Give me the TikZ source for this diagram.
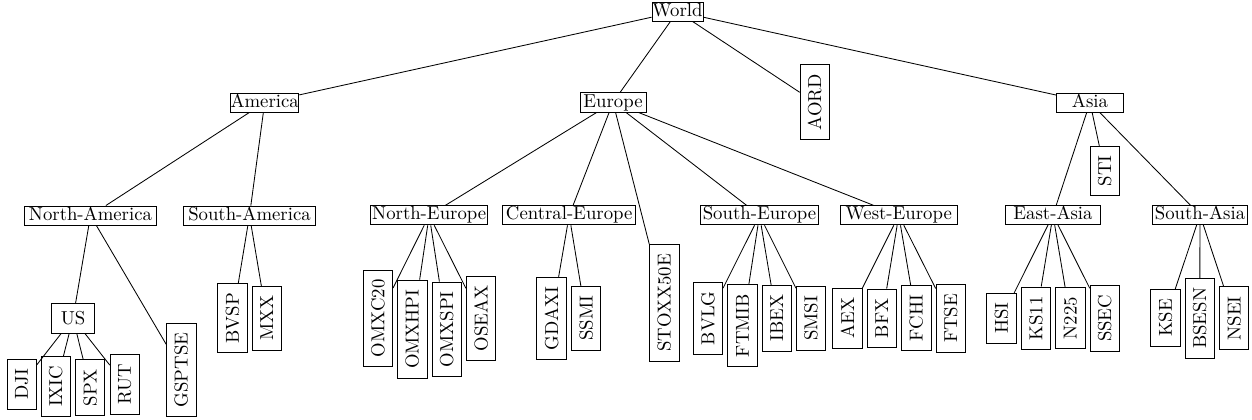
\documentclass[tikz,border=0pt]{standalone}
\begin{document}
\begin{tikzpicture}[x=0.5333pt,y=-0.5333pt,
  every path/.style={line width=0.45pt},
  inner/.style={draw, inner sep=0pt, text height=6.94pt, text depth=1.94pt, minimum height=10.2pt},
  leafbox/.style={draw, inner xsep=5pt, inner ysep=0pt, minimum height=15.6pt},
  leaf/.style={leafbox, rotate=90}]
\useasboundingbox (0,0) rectangle (1252,419);
% level 0/1
\node[inner, minimum width=27.2pt] (world) at (677.5,11.5) {World};
\node[inner, minimum width=35.2pt] (america) at (264.7,102.5) {America};
\node[inner, minimum width=35.2pt] (europe) at (613,102.4) {Europe};
\node[leaf] (aord) at (814.7,102.2) {AORD};
\node[inner, minimum width=35.6pt] (asia) at (1090,102.5) {Asia};
\node[leaf] (sti) at (1104.7,171) {STI};
% level 2
\node[inner, minimum width=70.6pt] (nam) at (90.5,215.5) {North-America};
\node[inner, minimum width=70.6pt] (sam) at (249.5,215.5) {South-America};
\node[inner, minimum width=62.4pt] (neu) at (429.2,215.3) {North-Europe};
\node[inner, minimum width=70.9pt] (ceu) at (569.2,215.3) {Central-Europe};
\node[leaf] (stoxx) at (664.3,303) {STOXX50E};
\node[inner, minimum width=62.8pt] (seu) at (759.5,215.3) {South-Europe};
\node[inner, minimum width=62.8pt] (weu) at (898.8,215.3) {West-Europe};
\node[inner, minimum width=50.8pt] (eas) at (1053,215) {East-Asia};
\node[inner, minimum width=50.8pt] (sas) at (1200,215) {South-Asia};
% America leaves
\node[leafbox] (us) at (73,318.3) {US};
\node[leaf] (dji) at (21.7,384.2) {DJI};
\node[leaf] (ixic) at (55.8,386.3) {IXIC};
\node[leaf] (spx) at (90.2,387.7) {SPX};
\node[leaf] (rut) at (124.8,384.2) {RUT};
\node[leaf] (gsptse) at (181.3,370) {GSPTSE};
\node[leaf] (bvsp) at (232.5,318.2) {BVSP};
\node[leaf] (mxx) at (266.8,318.3) {MXX};
% Europe leaves
\node[leaf] (omxc) at (378,318.3) {OMXC20};
\node[leaf] (omxh) at (412.3,329.2) {OMXHPI};
\node[leaf] (omxs) at (446.7,329.2) {OMXSPI};
\node[leaf] (oseax) at (481,318.3) {OSEAX};
\node[leaf] (gdaxi) at (551.5,318.3) {GDAXI};
\node[leaf] (ssmi) at (586.2,318.3) {SSMI};
\node[leaf] (bvlg) at (708,318.2) {BVLG};
\node[leaf] (ftmib) at (742.5,325.5) {FTMIB};
\node[leaf] (ibex) at (776.7,318.3) {IBEX};
\node[leaf] (smsi) at (811,318.3) {SMSI};
\node[leaf] (aex) at (847.3,318.2) {AEX};
\node[leaf] (bfx) at (881.8,318.2) {BFX};
\node[leaf] (fchi) at (916.3,318.2) {FCHI};
\node[leaf] (ftse) at (950.7,318.3) {FTSE};
% Asia leaves
\node[leaf] (hsi) at (1001.5,318.3) {HSI};
\node[leaf] (ks11) at (1036,318.2) {KS11};
\node[leaf] (n225) at (1070.3,318.2) {N225};
\node[leaf] (ssec) at (1104.8,318.3) {SSEC};
\node[leaf] (kse) at (1165.5,318) {KSE};
\node[leaf] (bsesn) at (1199.7,318.3) {BSESN};
\node[leaf] (nsei) at (1234.2,318.3) {NSEI};
% edges
\foreach \a/\b in {world/america, world/europe, world/aord, world/asia,
  america/nam, america/sam, nam/us, nam/gsptse,
  us/dji, us/ixic, us/spx, us/rut, sam/bvsp, sam/mxx,
  europe/neu, europe/ceu, europe/stoxx, europe/seu, europe/weu,
  neu/omxc, neu/omxh, neu/omxs, neu/oseax, ceu/gdaxi, ceu/ssmi,
  seu/bvlg, seu/ftmib, seu/ibex, seu/smsi,
  weu/aex, weu/bfx, weu/fchi, weu/ftse,
  asia/eas, asia/sti, asia/sas,
  eas/hsi, eas/ks11, eas/n225, eas/ssec,
  sas/kse, sas/bsesn, sas/nsei}
  \draw (\a) -- (\b);
\end{tikzpicture}
\end{document}
